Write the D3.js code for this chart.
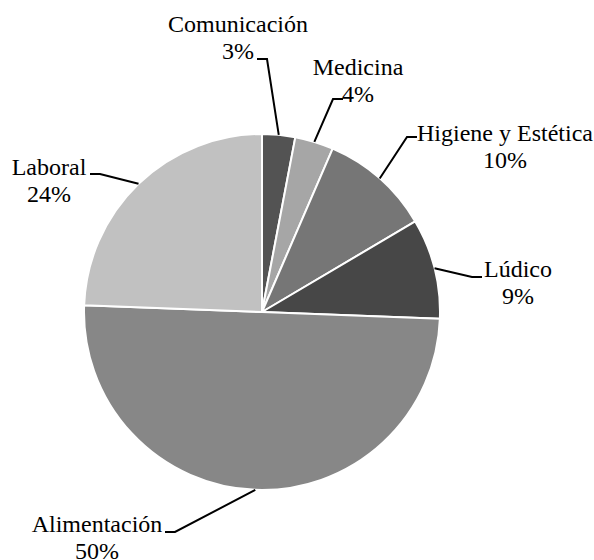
<!DOCTYPE html>
<html><head><meta charset="utf-8">
<script src="https://cdn.jsdelivr.net/npm/d3@7/dist/d3.min.js"></script>
</head>
<body style="margin:0;background:#fff">
<svg id="chart" width="594" height="560"></svg>
<script>
// Categories and shares (percent) of each use
const categories = ["Comunicación", "Medicina", "Higiene y Estética", "Lúdico", "Alimentación", "Laboral"];
const shares = [3.0, 3.5, 10.0, 9.1, 50.0, 24.4];
const percentLabels = ["3%", "4%", "10%", "9%", "50%", "24%"];
const fills = ["#535353", "#a6a6a6", "#767676", "#474747", "#878787", "#c1c1c1"];

// Label placement: centre x of the text block, baseline of its first line,
// side of the block the leader hooks into and the position of that hook.
const labelLayout = [
  { x: 238, y: 32,  side: "right", hookY: 59,  hookX: 257 },
  { x: 358, y: 75,  side: "left",  hookY: 99,  hookX: 343 },
  { x: 505, y: 141, side: "left",  hookY: 137, hookX: 417 },
  { x: 518, y: 277, side: "left",  hookY: 277, hookX: 482 },
  { x: 97,  y: 532, side: "right", hookY: 532, hookX: 165 },
  { x: 49,  y: 175, side: "right", hookY: 174, hookX: 90 }
];

const cx = 262, cy = 312, radius = 178, lineGap = 27, hookLen = 10;
const labelFont = "Liberation Serif";

function draw() {
  const data = categories.map((c, i) => ({ name: c, value: shares[i], label: percentLabels[i], fill: fills[i], layout: labelLayout[i] }));

  const svg = d3.select("#chart");
  svg.selectAll("*").remove();
  const g = svg.append("g").attr("transform", `translate(${cx},${cy})`);

  const pie = d3.pie().value(d => d.value).sort(null);
  const arc = d3.arc().innerRadius(0).outerRadius(radius);
  const arcs = pie(data);

  // Slices
  g.selectAll("path.slice")
    .data(arcs)
    .enter().append("path")
    .attr("class", "slice")
    .attr("d", arc)
    .attr("fill", d => d.data.fill)
    .attr("stroke", "#ffffff")
    .attr("stroke-width", 2)
    .attr("stroke-linejoin", "round");

  // Leader lines: from the slice's outer edge at its mid angle to a short horizontal hook
  arcs.forEach(a => {
    const mid = (a.startAngle + a.endAngle) / 2;
    const sx = cx + radius * Math.sin(mid);
    const sy = cy - radius * Math.cos(mid);
    const L = a.data.layout;
    const ex = L.hookX;
    const kx = L.side === "right" ? ex + hookLen : ex - hookLen;
    svg.append("polyline")
      .attr("points", `${sx},${sy} ${kx},${L.hookY} ${ex},${L.hookY}`)
      .attr("fill", "none")
      .attr("stroke", "#000")
      .attr("stroke-width", 2);
  });

  // Labels: category name and its percentage on the line below
  arcs.forEach(a => {
    const L = a.data.layout;
    [a.data.name, a.data.label].forEach((txt, k) => {
      svg.append("text")
        .attr("x", L.x)
        .attr("y", L.y + k * lineGap)
        .attr("text-anchor", "middle")
        .attr("font-size", 24)
        .attr("font-family", labelFont)
        .style("font-family", `"${labelFont}", "Times New Roman", serif`)
        .text(txt);
    });
  });
}

// Make sure the serif face is loaded before the labels are laid out
draw();
if (document.fonts && document.fonts.load) {
  document.fonts.load(`24px "${labelFont}"`, "Comunicación 0123456789%")
    .then(() => document.fonts.ready)
    .then(draw)
    .catch(() => {});
}
</script>
</body></html>
